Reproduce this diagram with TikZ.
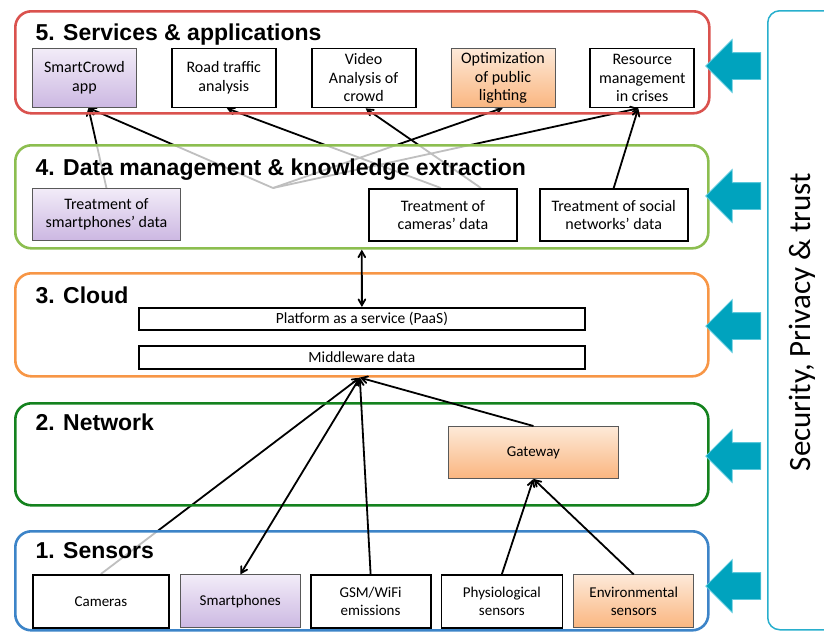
\documentclass[tikz,border=0pt]{standalone}
\usepackage{fontspec}
\setmainfont{Carlito}
\newfontfamily\headfont{Liberation Sans}
\usepackage{tikz}
\usetikzlibrary{arrows, positioning, shapes.arrows}

\definecolor{tierred}{RGB}{218,82,78}
\definecolor{tierlime}{RGB}{140,190,80}
\definecolor{tierorange}{RGB}{247,150,70}
\definecolor{tiergreen}{RGB}{20,130,30}
\definecolor{tierblue}{RGB}{60,132,200}
\definecolor{panelcyan}{RGB}{40,175,205}
\definecolor{arrowteal}{RGB}{0,163,190}
\definecolor{arrowedge}{RGB}{90,200,220}
\definecolor{purpletop}{RGB}{242,236,248}
\definecolor{purplebot}{RGB}{204,184,226}
\definecolor{orangetop}{RGB}{253,233,216}
\definecolor{orangebot}{RGB}{250,182,128}

\pgfdeclarelayer{background}
\pgfsetlayers{background,main}

\begin{document}
\begin{tikzpicture}[x=1pt,y=-1pt,>=angle 60,
	tierframe/.style={rectangle,rounded corners=16pt,line width=2.6pt,anchor=north west,inner sep=0pt},
	headline/.style={anchor=base west,font=\headfont\bfseries\fontsize{23}{27}\selectfont},
	box/.style={rectangle,draw=black,line width=1.8pt,align=center,inner sep=0pt,
		font=\fontsize{15}{18.5}\selectfont},
	bigtext/.style={font=\fontsize{16}{18.5}\selectfont},
	purplebox/.style={box,draw=black!65,line width=0.9pt,top color=purpletop,bottom color=purplebot},
	orangebox/.style={box,draw=black!65,line width=0.9pt,top color=orangetop,bottom color=orangebot},
	flow/.style={->,line width=1.8pt},
	secarrow/.style={single arrow,shape border rotate=180,fill=arrowteal,draw=arrowedge,line width=0.8pt,
		minimum height=55pt,single arrow head extend=13pt,
		single arrow head indent=0pt,inner xsep=0pt,inner ysep=13pt}]

	\useasboundingbox (0,0) rectangle (824,632);

	% layers
	\node [tierframe, draw=tierred, minimum width=694, minimum height=102] (tier5) at (14,10) {};
	\node [tierframe, draw=tierlime, fill=white, fill opacity=0.75, minimum width=693, minimum height=103] (tier4) at (14,144) {};
	\node [tierframe, draw=tierorange, minimum width=693, minimum height=103] (tier3) at (14,272) {};
	\node [tierframe, draw=tiergreen, minimum width=693, minimum height=102] (tier2) at (14,402) {};
	\node [tierframe, draw=tierblue, fill=white, fill opacity=0.75, minimum width=693, minimum height=99] (tier1) at (14,530) {};

	\node [headline] (t5) at (32,40) {5. Services \& applications};
	\node [headline] (t4) at (32,175) {4. Data management \& knowledge extraction};
	\node [headline] (t3) at (32,303) {3. Cloud};
	\node [headline] (t2) at (32,430) {2. Network};
	\node [headline] (t1) at (32,558) {1. Sensors};

	% 5. services
	\node [purplebox, bigtext, anchor=north west, minimum width=104, minimum height=59] (sc) at (32,48) {SmartCrowd\\app};
	\node [box, bigtext, right=34pt of sc, minimum width=104, minimum height=59] (road) {Road traffic\\analysis};
	\node [box, bigtext, right=34pt of road, minimum width=104, minimum height=59] (video) {Video\\Analysis of\\crowd};
	\node [orangebox, bigtext, right=34pt of video, minimum width=104, minimum height=59] (optim) {Optimization\\of public\\lighting};
	\node [box, bigtext, right=34pt of optim, minimum width=104, minimum height=59] (resrc) {Resource\\management\\in crises};

	% 4. data management
	\node [purplebox, bigtext, anchor=north west, minimum width=148, minimum height=52] (smdata) at (32,188) {Treatment of\\smartphones’ data};
	\node [box, bigtext, anchor=north west, minimum width=148, minimum height=52] (camdata) at (368,188) {Treatment of\\cameras’ data};
	\node [box, bigtext, right=21pt of camdata, minimum width=148, minimum height=52] (socdata) {Treatment of social\\networks’ data};
	\coordinate (hub) at (273,188);

	% 3. cloud
	\node [box, anchor=north west, minimum width=446, minimum height=22, font=\fontsize{15.5}{18}\selectfont] (paas) at (138,307) {Platform as a service (PaaS)};
	\node [box, below=14pt of paas, minimum width=446, minimum height=23, font=\fontsize{15.5}{18}\selectfont] (mware) {Middleware data};

	% 2. network
	\node [orangebox, anchor=north west, minimum width=170, minimum height=52] (gate) at (448,426) {Gateway};

	% 1. sensors
	\node [box, anchor=north west, minimum width=136, minimum height=53] (cams) at (32,574) {Cameras};
	\node [purplebox, right=10pt of cams, minimum width=120, minimum height=53] (phones) {Smartphones};
	\node [box, right=9pt of phones, minimum width=120, minimum height=53] (gsm) {GSM/WiFi\\emissions};
	\node [box, right=9pt of gsm, minimum width=121, minimum height=53] (physio) {Physiological\\sensors};
	\node [orangebox, right=10pt of physio, minimum width=120, minimum height=53] (envir) {Environmental\\sensors};

	% security panel
	\node [rectangle, draw=panelcyan, line width=1.5pt, rounded corners=12pt, anchor=north west,
		minimum width=80, minimum height=619] (secpanel) at (767,10) {};
	\node [rotate=90, font=\fontsize{31}{36}\selectfont] (sectext) at (802,322) {Security, Privacy \& trust};
	\foreach \ay [count=\i] in {66,196,326,456,586}
		\node [secarrow] (sa\i) at (740,\ay) {};

	% connectors behind the layers
	\begin{pgfonlayer}{background}
		\draw [flow] (smdata.north) -- ([xshift=4pt]sc.south);
		\draw [flow] (hub) -- ([xshift=4pt]sc.south);
		\draw [flow] (hub) -- (optim.south);
		\draw [flow] (hub) -- ([xshift=-4pt]resrc.south);
		\draw [flow] ([xshift=-2pt]camdata.north) -- ([xshift=3pt]road.south);
		\draw [flow] ([xshift=38pt]camdata.north) -- ([xshift=2pt]video.south);
		\draw [flow] (cams.north) -- ([xshift=-2pt]tier3.south);
	\end{pgfonlayer}

	\draw [flow] (socdata.north) -- ([xshift=-4pt]resrc.south);
	\draw [<->, line width=1.8pt] (tier4.south) -- (paas.north);
	\draw [<->, line width=1.8pt] ([xshift=-2pt]tier3.south) -- (phones.north);
	\draw [flow] (gsm.north) -- ([xshift=-2pt]tier3.south);
	\draw [flow] (gate.north) -- ([xshift=-2pt]tier3.south);
	\draw [flow] (physio.north) -- (gate.south);
	\draw [flow] (envir.north) -- (gate.south);
\end{tikzpicture}
\end{document}
